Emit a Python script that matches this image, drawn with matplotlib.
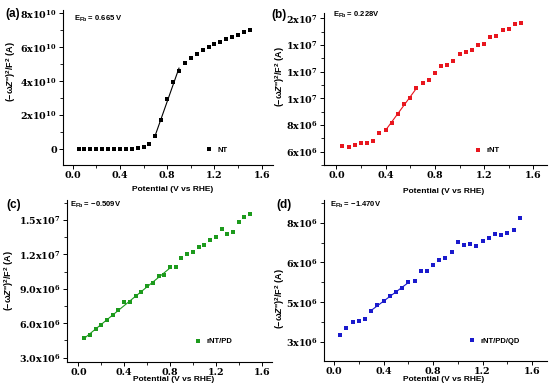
import numpy as np
import matplotlib
matplotlib.use("Agg")
import matplotlib.pyplot as plt
from matplotlib.ticker import MultipleLocator, FuncFormatter

plt.rcParams['mathtext.fontset'] = 'custom'
plt.rcParams['mathtext.it'] = 'Liberation Sans:bold:italic'
plt.rcParams['mathtext.rm'] = 'Liberation Sans:bold'

potential = np.round(np.arange(0.05, 1.5001, 0.05), 2)

nt = [0.0, 0.0, 0.0, 0.0, 0.0, 0.0, 0.0, 0.0, 0.02, 0.03, 0.06, 0.14,
      0.31, 0.79, 1.73, 2.93, 3.93, 4.62, 5.05, 5.37, 5.60, 5.82, 6.01,
      6.19, 6.33, 6.49, 6.60, 6.74, 6.88, 7.02]  # x1e10
rnt = [6.45, 6.38, 6.50, 6.65, 6.68, 6.78, 7.43, 7.63, 8.18, 8.85, 9.60,
       10.05, 10.75, 11.18, 11.38, 11.90, 12.43, 12.53, 12.78, 13.30, 13.45,
       13.63, 14.00, 14.08, 14.58, 14.70, 15.15, 15.20, 15.55, 15.63]  # x1e6
rnt_pd = [4.72, 4.95, 5.53, 5.83, 6.26, 6.70, 7.19, 7.86, 7.83, 8.36, 8.71,
          9.26, 9.50, 10.11, 10.17, 10.92, 10.92, 11.71, 12.03, 12.23, 12.64,
          12.82, 13.22, 13.54, 14.24, 13.81, 13.98, 14.80, 15.26, 15.53]  # x1e6
rnt_pd_qd = [3.26, 3.53, 3.74, 3.79, 3.87, 4.16, 4.39, 4.55, 4.73, 4.89, 5.02,
             5.26, 5.31, 5.67, 5.67, 5.90, 6.11, 6.16, 6.40, 6.77, 6.67, 6.68,
             6.62, 6.82, 6.93, 7.07, 7.05, 7.12, 7.24, 7.68]  # x1e6

panels = [
    dict(tag="(a)", name="NT", y=np.array(nt) * 1e10, color="black",
         efb="0.665 V", fit=(0.70, 0.90)),
    dict(tag="(b)", name="rNT", y=np.array(rnt) * 1e6, color="#e8161e",
         efb="0.228V", fit=(0.40, 0.65)),
    dict(tag="(c)", name="rNT/PD", y=np.array(rnt_pd) * 1e6, color="#1c9a1c",
         efb="\u22120.509V", fit=(0.05, 0.80)),
    dict(tag="(d)", name="rNT/PD/QD", y=np.array(rnt_pd_qd) * 1e6, color="#1a1acc",
         efb="\u22121.470V", fit=(0.30, 0.60)),
]

W, H = 550, 389
boxes = [(63, 273, 10, 165), (324, 547, 13, 165), (67, 272, 200, 362), (324, 547, 200, 361)]
xlims = [(-0.082, 1.696), (-0.10, 1.71), (-0.099, 1.69), (-0.081, 1.72)]
ylims = [(-0.94e10, 8.2e10), (5.0e6, 1.64e7), (2.62e6, 1.675e7), (2.28e6, 8.36e6)]
ymajor = [2e10, 2e6, 3e6, 1.5e6]
tagpos = [(5, 14), (271, 15), (6, 205), (276, 205)]
efbpos = [(0.05, 0.94), (0.04, 0.985), (0.015, 0.97), (0.027, 0.97)]
legpos = [(0.70, 0.097), (0.695, 0.094), (0.644, 0.125), (0.667, 0.124)]
ylabpos = [(-0.215, 0.6), (-0.165, 0.58), (-0.25, 0.506), (-0.168, 0.39)]
xlabpos = [(0.52, -0.135), (0.535, -0.149), (0.52, -0.086), (0.535, -0.093)]


def half_up(v):
    return int(np.floor(v + 0.5))


def fmt_a(v, pos):
    if abs(v) < 1:
        return "0"
    return "%dx10$^{\\mathregular{10}}$" % half_up(v / 1e10)


def fmt_round(v, pos):
    if v <= 0:
        return ""
    e = int(np.floor(np.log10(v)))
    m = half_up(v / 10 ** e)
    if m == 10:
        m, e = 1, e + 1
    return "%dx10$^{\\mathregular{%d}}$" % (m, e)


def fmt_c(v, pos):
    if v <= 0:
        return ""
    e = int(np.floor(np.log10(v)))
    return "%.1fx10$^{\\mathregular{%d}}$" % (v / 10 ** e, e)


formatters = [fmt_a, fmt_round, fmt_c, fmt_round]

fig = plt.figure(figsize=(W / 100, H / 100), dpi=100)
ylabel = "(\u2212\u03c9$\\mathit{Z}$'')$^{\\mathregular{2}}$/F$^{\\mathregular{2}}$ (A)"

for i, p in enumerate(panels):
    l, r, t, b = boxes[i]
    ax = fig.add_axes([l / W, 1 - b / H, (r - l) / W, (b - t) / H])
    x = potential
    y = p["y"]
    line, = ax.plot(x, y, linestyle="none", marker="s", ms=3, mew=0,
                    color=p["color"], label=p["name"])
    lo, hi = p["fit"]
    m = (x >= lo - 1e-9) & (x <= hi + 1e-9)
    coef = np.polyfit(x[m], y[m], 1)
    xf = np.array([lo, hi])
    ax.plot(xf, np.polyval(coef, xf), color=p["color"], lw=0.8)

    ax.set_xlim(*xlims[i])
    ax.set_ylim(*ylims[i])
    for s in ("top", "right"):
        ax.spines[s].set_visible(False)
    for s in ("left", "bottom"):
        ax.spines[s].set_linewidth(0.8)
    ax.xaxis.set_major_locator(MultipleLocator(0.4))
    ax.xaxis.set_minor_locator(MultipleLocator(0.2))
    ax.yaxis.set_major_locator(MultipleLocator(ymajor[i]))
    ax.yaxis.set_minor_locator(MultipleLocator(ymajor[i] / 2))
    ax.xaxis.set_major_formatter(FuncFormatter(lambda v, pos: "%.1f" % v))
    ax.yaxis.set_major_formatter(FuncFormatter(formatters[i]))
    ax.tick_params(which="major", direction="out", length=3, width=0.7, pad=1.5,
                   labelsize=6.8)
    ax.tick_params(which="minor", direction="out", length=2, width=0.6)
    for lab in ax.get_xticklabels() + ax.get_yticklabels():
        lab.set_family("DejaVu Serif")
        lab.set_fontweight("bold")

    ax.set_xlabel("Potential (V vs RHE)", fontsize=6, fontweight="bold",
                  family="Liberation Sans")
    ax.xaxis.set_label_coords(*xlabpos[i])
    ax.set_ylabel(ylabel, fontsize=6.5, fontweight="bold", family="Liberation Sans")
    ax.yaxis.set_label_coords(*ylabpos[i])

    ax.text(efbpos[i][0], efbpos[i][1], "E$_{\\mathregular{Fb}}$ = " + p["efb"],
            transform=ax.transAxes, fontsize=5.5, fontweight="bold",
            family="Liberation Sans", ha="left", va="center", clip_on=False)

    axw = r - l
    lx, ly = legpos[i]
    ax.legend(handles=[line], loc="center left",
              bbox_to_anchor=(lx - 4.5 / axw, ly), frameon=False,
              handlelength=1.0, handletextpad=0.6, borderpad=0, borderaxespad=0,
              numpoints=1, prop=dict(family="Liberation Sans", weight="bold", size=5.5))

    fig.text(tagpos[i][0] / W, 1 - tagpos[i][1] / H, p["tag"], fontsize=8.5,
             fontweight="bold", family="Liberation Sans", ha="left", va="center")

fig.savefig("out.png", dpi=100)
